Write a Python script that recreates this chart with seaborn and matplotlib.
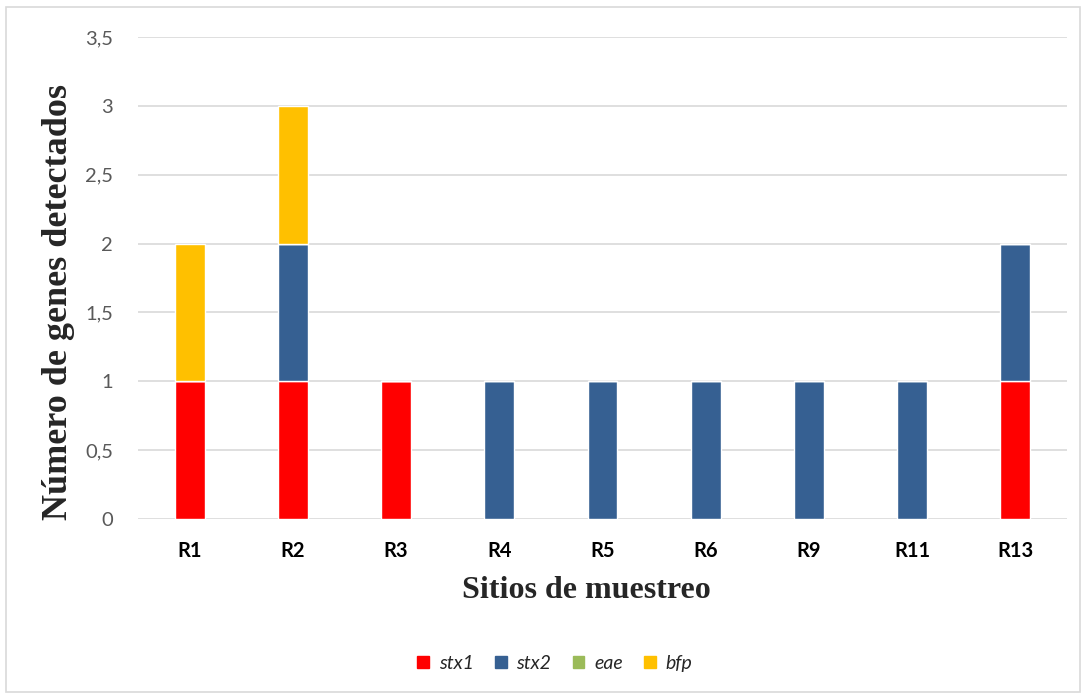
import matplotlib.pyplot as plt
import matplotlib.patches as mpatches
import numpy as np
import pandas as pd
import seaborn as sns

# sampling sites and number of genes detected per site
sitios = ['R1', 'R2', 'R3', 'R4', 'R5', 'R6', 'R9', 'R11', 'R13']
stx1 = [1, 1, 1, 0, 0, 0, 0, 0, 1]
stx2 = [0, 1, 0, 1, 1, 1, 1, 1, 1]
eae = [0, 0, 0, 0, 0, 0, 0, 0, 0]
bfp = [1, 1, 0, 0, 0, 0, 0, 0, 0]

genes = ['stx1', 'stx2', 'eae', 'bfp']
colores = ['#FF0000', '#366092', '#9BBB59', '#FFC000']

df = pd.DataFrame({'sitio': sitios, 'stx1': stx1, 'stx2': stx2, 'eae': eae, 'bfp': bfp})

sns.set_style('white')
fig = plt.figure(figsize=(10.86, 6.98), dpi=100)
ax = fig.add_axes([0.1271, 0.2564, 0.8554, 0.6905])

# stacked bars, one layer per gene
base = np.zeros(len(sitios))
for g, c in zip(genes, colores):
    sns.barplot(data=df, x='sitio', y=g, color=c, saturation=1, bottom=base, width=0.29,
                edgecolor='white', linewidth=1, ax=ax, zorder=3)
    base = base + df[g].values

ax.set_xlim(-0.5, 8.5)
ax.set_ylim(0, 3.5)
ax.set_yticks(np.arange(0, 3.51, 0.5))
ax.set_yticklabels([('%g' % v).replace('.', ',') for v in np.arange(0, 3.51, 0.5)],
                   fontsize=14.5, color='#595959', family='Lato')
ax.set_xticks(range(len(sitios)))
ax.set_xticklabels(sitios, fontsize=14.5, fontweight='bold', color='black', family='Lato')
ax.tick_params(axis='y', length=0, pad=18)
ax.tick_params(axis='x', length=0, pad=16)
ax.grid(axis='y', color='#D9D9D9', linewidth=1.2, zorder=0)
ax.set_axisbelow(True)
for s in ax.spines.values():
    s.set_visible(False)

ax.set_xlabel('Sitios de muestreo', fontsize=23, fontweight='bold', family='Liberation Serif')
ax.set_ylabel('Número de genes detectados', fontsize=26, fontweight='bold', family='Liberation Serif')
ax.xaxis.set_label_coords(0.483, -0.118)
ax.yaxis.set_label_coords(-0.068, 0.45)

handles = [mpatches.Patch(color=c, label=g) for g, c in zip(genes, colores)]
fig.legend(handles=handles, loc='center', bbox_to_anchor=(0.511, 0.05), ncol=4,
           frameon=False, prop={'family': 'Lato', 'style': 'italic', 'size': 14},
           handlelength=0.6, handleheight=0.6, handletextpad=0.5, columnspacing=1.1)

# outer chart border
fig.patches.append(mpatches.Rectangle((0.0055, 0.0086), 0.989, 0.982, transform=fig.transFigure,
                                      fill=False, edgecolor='#D9D9D9', linewidth=1.2))

plt.savefig('out.png', dpi=100)
